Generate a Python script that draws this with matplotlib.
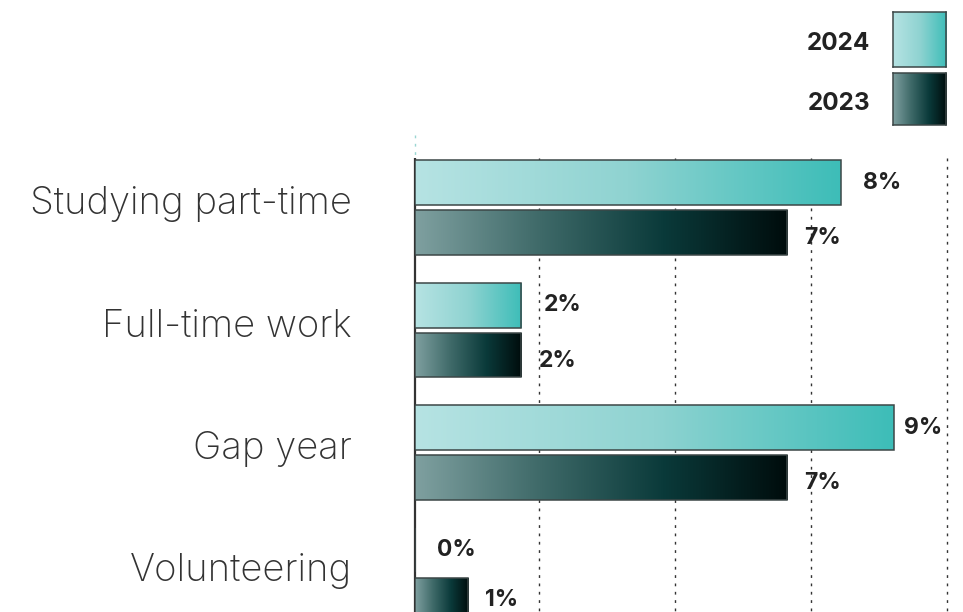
"""Post-school activity bar chart, 2024 vs 2023"""
import numpy as np
import matplotlib.pyplot as plt
from matplotlib.colors import LinearSegmentedColormap

# Data
categories = ['Studying part-time', 'Full-time work', 'Gap year', 'Volunteering']
values_2024 = [8, 2, 9, 0]
values_2023 = [7, 2, 7, 1]
years = ['2024', '2023']

# Gradients (left -> right)
cmap_2024 = LinearSegmentedColormap.from_list('c24', ['#b6e3e3', '#8fd3d1', '#3dbdb8'])
cmap_2023 = LinearSegmentedColormap.from_list('c23', ['#7fa0a0', '#3f6a69', '#0a3a3a', '#000c0c'])
edge = '#3c4747'
grad = np.linspace(0, 1, 256).reshape(1, -1)

fig = plt.figure(figsize=(9.63, 6.12), dpi=100)
fig.patch.set_facecolor('white')
ax = fig.add_axes([415 / 963, 0, 532 / 963, (612 - 135) / 612])
ax.set_xlim(0, 10)
ax.set_ylim(3.302, -0.592)
ax.axis('off')

y = np.arange(len(categories))
h = 0.367
off = 0.204

# Gridlines
grid_x = [2.33, 4.89, 7.44, 10.0]
ax.vlines(grid_x, -0.404, 3.302, color='#333333', linestyles=(0, (2, 4)), lw=1, zorder=0, clip_on=False)
ax.vlines(0, -0.592, -0.404, color='#9ad6d2', linestyles=(0, (2, 4)), lw=1, zorder=0, clip_on=False)
ax.vlines(0, -0.404, 3.302, color='#333333', lw=1.6, zorder=1, clip_on=False)


def gradient_bars(ys, vals, cmap):
    bars = ax.barh(ys, vals, height=h, facecolor='none', edgecolor=edge, lw=1.1, zorder=3)
    for b in bars:
        if b.get_width() <= 0:
            continue
        x0, y0, w, hh = b.get_x(), b.get_y(), b.get_width(), b.get_height()
        im = ax.imshow(grad, cmap=cmap, aspect='auto', extent=(x0, x0 + w, y0 + hh, y0), zorder=2)
        im.set_clip_path(b)
    return bars


gradient_bars(y - off, values_2024, cmap_2024)
gradient_bars(y + off, values_2023, cmap_2023)
ax.set_xlim(0, 10)
ax.set_ylim(3.302, -0.592)

lab_font = dict(family=['Inter', 'DejaVu Sans'], fontweight='bold', fontsize=16.5, color='#222222')
for yi, v in zip(y, values_2024):
    ax.text(min(v + 0.42, 9.2), yi - off, f'{v}%', ha='left', va='center', clip_on=False, **lab_font)
for yi, v in zip(y, values_2023):
    ax.text(v + 0.32, min(yi + off + 0.045, 3.2), f'{v}%', ha='left', va='center', clip_on=False, **lab_font)

# Category labels
for yi, c in zip(y, categories):
    ax.text(-1.18, yi - 0.03, c, ha='right', va='center', fontsize=27.5,
            family=['Inter', 'DejaVu Sans'], fontweight='light', color='#333333', clip_on=False)

# Legend
swatches = [(cmap_2024, [893 / 963, 1 - 67 / 612, 53 / 963, 55 / 612], 1 - 43 / 612),
            (cmap_2023, [893 / 963, 1 - 125 / 612, 53 / 963, 52 / 612], 1 - 103 / 612)]
leg_font = dict(lab_font, fontsize=17.5)
for yr, (cm, rect, ty) in zip(years, swatches):
    lax = fig.add_axes(rect)
    lax.imshow(grad, cmap=cm, aspect='auto')
    lax.set_xticks([])
    lax.set_yticks([])
    for s in lax.spines.values():
        s.set_color(edge)
        s.set_linewidth(1.1)
    fig.text(870 / 963, ty, yr, ha='right', va='center', **leg_font)

plt.savefig('out.png', dpi=100, facecolor='white')
plt.close()
